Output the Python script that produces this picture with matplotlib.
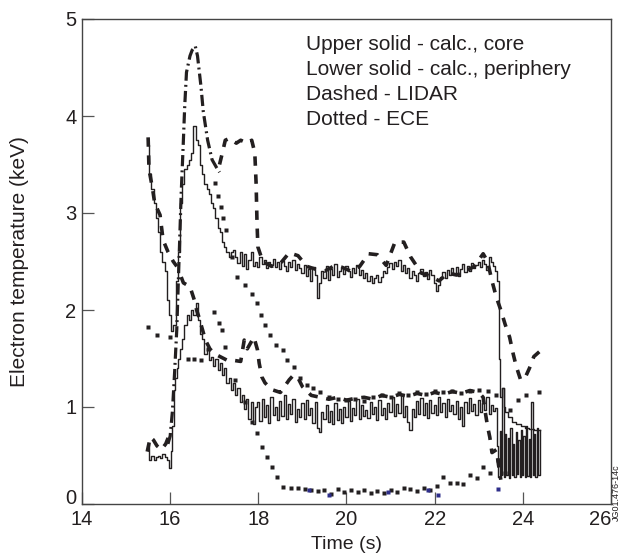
import numpy as np
import matplotlib
matplotlib.use("Agg")
import matplotlib.pyplot as plt

plt.rcParams['font.family'] = ['Liberation Sans', 'DejaVu Sans']
INK = '#231f20'
GAP = float('nan')

# ---------------- data ----------------
# Upper solid: calculated Te, core
core_t_start = [15.50, 15.55, 15.60, 15.65, 15.70, 15.75, 15.80, 15.85, 15.90, 15.95,
                16.00, 16.05, 16.10, 16.15, 16.20, 16.25, 16.30, 16.35, 16.40, 16.45,
                16.50, 16.55, 16.60, 16.65, 16.70, 16.75, 16.80, 16.85, 16.90, 16.95,
                17.00, 17.05, 17.10, 17.15, 17.20, 17.25, 17.30, 17.35, 17.40]
core_v_start = [3.70, 3.40, 3.25, 3.10, 2.95, 2.80, 2.60, 2.50, 2.40, 2.10,
                1.95, 1.78, 1.85, 2.30, 2.60, 3.10, 3.30, 3.45, 3.50, 3.55,
                3.62, 3.90, 3.75, 3.70, 3.50, 3.40, 3.30, 3.25, 3.20, 3.10,
                3.05, 2.95, 2.85, 2.80, 2.70, 2.65, 2.60, 2.55, 2.60]
core_v_flat = [2.62, 2.55, 2.48, 2.60, 2.45, 2.58, 2.42, 2.52, 2.60, 2.45,
               2.50, 2.44, 2.55, 2.47, 2.52, 2.43, 2.50, 2.46, 2.53, 2.44,
               2.49, 2.42, 2.51, 2.45, 2.40, 2.50, 2.44, 2.52, 2.41, 2.47,
               2.43, 2.38, 2.46, 2.35, 2.42, 2.30, 2.44, 2.36, 2.12, 2.28,
               2.40, 2.33, 2.45, 2.31, 2.42, 2.36, 2.47, 2.34, 2.40, 2.44,
               2.37, 2.45, 2.40, 2.34, 2.43, 2.38, 2.46, 2.36, 2.41, 2.33,
               2.38, 2.30, 2.35, 2.28, 2.33, 2.36, 2.29, 2.34, 2.40, 2.38,
               2.44, 2.48, 2.42, 2.50, 2.45, 2.52, 2.40, 2.46, 2.38, 2.43,
               2.33, 2.40, 2.36, 2.30, 2.38, 2.42, 2.35, 2.39, 2.32, 2.41,
               2.36, 2.28, 2.20, 2.26, 2.34, 2.39, 2.33, 2.41, 2.36, 2.43,
               2.38, 2.44, 2.35, 2.42, 2.47, 2.39, 2.45, 2.40, 2.48, 2.43,
               2.46, 2.50, 2.44, 2.52, 2.47, 2.41, 2.55, 2.49, 2.45, 2.40]
core_t_end = [23.45, 23.47, 23.50, 23.55, 23.58, 23.62, 23.70, 23.80, 23.90, 24.00,
              24.10, 24.20, 24.30, 24.40]
core_v_end = [2.30, 1.50, 1.10, 1.20, 1.00, 0.95, 0.90, 0.85, 0.82, 0.80,
              0.78, 0.77, 0.76, 0.76]

# Lower solid: calculated Te, periphery
peri_t_start = [15.50, 15.52, 15.60, 15.65, 15.70, 15.75, 15.80, 15.85, 15.90, 15.95,
                16.00, 16.03, 16.06, 16.10, 16.13, 16.17, 16.20, 16.25, 16.30, 16.35,
                16.40, 16.45, 16.50, 16.55, 16.60, 16.65, 16.70, 16.75, 16.80, 16.85,
                16.90, 16.95, 17.00, 17.05, 17.10, 17.15, 17.20, 17.25, 17.30, 17.35,
                17.40, 17.45, 17.50, 17.55, 17.60, 17.65, 17.70, 17.75, 17.80, 17.85,
                17.90, 17.95]
peri_v_start = [0.62, 0.45, 0.50, 0.45, 0.48, 0.50, 0.47, 0.52, 0.48, 0.45,
                0.37, 0.55, 0.80, 1.18, 1.30, 1.40, 1.50, 1.60, 1.70, 1.85,
                1.95, 1.90, 2.00, 1.95, 2.07, 1.90, 1.75, 1.70, 1.55, 1.60,
                1.48, 1.52, 1.42, 1.50, 1.38, 1.45, 1.33, 1.40, 1.25, 1.30,
                1.18, 1.25, 1.12, 1.20, 1.05, 1.12, 0.98, 1.08, 0.88, 1.05,
                0.82, 1.00]
peri_v_flat = [1.05, 0.86, 1.08, 0.90, 1.02, 0.84, 1.10, 0.92, 1.00, 0.87,
               1.06, 0.91, 1.12, 0.88, 1.03, 0.93, 1.08, 0.85, 0.98, 0.90,
               1.04, 0.88, 1.07, 0.92, 0.99, 0.83, 1.05, 0.78, 0.74, 0.95,
               0.88, 1.02, 0.85, 0.96, 0.82, 1.04, 0.87, 0.98, 0.84, 1.00,
               0.90, 1.06, 0.86, 0.99, 0.92, 1.08, 0.88, 1.02, 0.91, 0.97,
               0.89, 1.05, 0.93, 1.00, 0.87, 1.07, 0.92, 0.99, 0.88, 1.04,
               0.95, 1.10, 0.91, 1.03, 0.94, 1.12, 0.90, 1.01, 0.85, 0.76,
               0.98, 0.90, 1.06, 0.93, 1.09, 0.92, 1.04, 0.89, 1.07, 0.94,
               1.02, 0.92, 1.10, 0.95, 1.04, 0.90, 1.08, 0.96, 1.02, 0.93,
               1.06, 0.88, 1.00, 0.80, 1.05, 0.94, 1.09, 0.96, 1.03, 0.92,
               1.07, 0.95, 1.04, 0.97, 1.10, 0.93, 1.02, 0.96, 0.99]
peri_t_end = [23.43, 23.46, 23.49, 23.52, 23.55, 23.58, 23.61, 23.64, 23.67, 23.70,
              23.73, 23.76, 23.79, 23.82, 23.85, 23.88, 23.91, 23.94, 23.97, 24.00,
              24.03, 24.06, 24.09, 24.12, 24.15, 24.18, 24.21, 24.24, 24.27, 24.30,
              24.33, 24.36, 24.40]
peri_v_end = [0.60, 0.28, 0.75, 0.30, 1.20, 0.28, 0.72, 0.30, 0.68, 0.27,
              0.78, 0.30, 0.62, 0.28, 0.74, 0.31, 0.66, 0.28, 0.76, 0.30,
              0.70, 0.28, 0.80, 0.29, 0.67, 0.28, 1.05, 0.30, 0.72, 0.28,
              0.78, 0.30, 0.76]

# Dashed: LIDAR (GAP = no data)
lidar_core_t = [15.50, 15.52, 15.60, 15.65, 15.77, 15.84, 15.95, 16.07, 16.15, 16.20,
                17.12, 17.20, 17.25, 17.35, 17.50, 17.60, 17.75, 17.85, 17.92,
                17.95, 17.97, 17.99, 18.10, 18.30, 18.50, 18.70, 18.90, 19.10,
                19.30, 19.50, 19.70, 19.90, 20.10, 20.30, 20.50, 20.70, 20.90,
                21.10, 21.30, 21.45, 21.70, 21.90, 22.10, 22.30, 22.50, 22.70,
                22.90, 23.10, 23.20, 23.30, 23.40, 23.50, 23.60, 23.70, 23.78,
                23.85, 23.95, 24.05, 24.15, 24.25, 24.40]
lidar_core_v = [3.78, 3.45, 3.25, 3.10, 2.98, 2.72, 2.60, 2.50, 2.45, GAP,
                3.50, 3.65, 3.75, 3.77, 3.72, 3.75, 3.72, 3.75, 3.62,
                3.30, 2.90, 2.65, 2.50, 2.45, 2.48, 2.59, 2.56, 2.45,
                2.42, 2.40, 2.45, 2.44, 2.40, 2.45, 2.58, 2.57, 2.46,
                2.70, 2.70, 2.55, 2.38, 2.35, 2.30, 2.38, 2.36, 2.40,
                2.45, 2.58, 2.50, 2.30, 2.13, 2.00, 1.85, 1.72, 1.55,
                1.42, 1.28, 1.30, 1.40, 1.52, 1.58]
lidar_peri_t = [15.48, 15.55, 15.62, 15.70, 15.80, 15.90, 15.97, 16.05, 16.12,
                16.25, 16.30, 16.45, 16.55, 16.60, 16.65, 16.80, 16.90, 17.00,
                17.30, 17.45, 17.60, 17.68, 17.75, 17.90, 17.98, 18.02, 18.08,
                18.15, 18.30, 18.50, 18.70, 18.80, 18.90, 19.00, 19.20, 19.40,
                19.60, 19.80, 20.00, 20.20, 20.40, 20.60, 20.80, 21.00, 21.20,
                21.40, 21.60, 21.80, 22.00, 22.20, 22.40, 22.60, 22.80, 23.00,
                23.10, 23.15, 23.20, 23.25, 23.30, 23.40, 23.45, 23.50]
lidar_peri_v = [0.54, 0.69, 0.66, 0.60, 0.56, 0.62, 0.70, 0.76, GAP,
                2.34, 2.28, 2.24, 2.10, 2.00, 1.93, 1.69, 1.60, 1.55,
                1.48, 1.48, 1.47, 1.69, 1.60, 1.72, 1.59, 1.45, 1.31,
                1.25, 1.18, 1.15, 1.28, 1.33, 1.30, 1.21, 1.12, 1.10,
                1.08, 1.10, 1.07, 1.09, 1.10, 1.08, 1.12, 1.10, 1.13,
                1.11, 1.14, 1.12, 1.15, 1.13, 1.16, 1.14, 1.17, 1.15,
                1.10, 0.94, 0.80, 0.69, 0.53, 0.56, 0.40, 0.25]

# Dotted: ECE (core channel; dense near the peak, drawn dash-dot)
ece_core_peak_t = [15.95, 16.00, 16.05, 16.10, 16.15, 16.20, 16.25, 16.30, 16.33,
                   16.37, 16.45, 16.50, 16.57, 16.62, 16.65, 16.70, 16.75, 16.80,
                   16.85, 16.90, 16.95, 17.05, 17.12]
ece_core_peak_v = [0.62, 0.70, 0.95, 1.35, 1.80, 2.50, 3.20, 3.75, 4.10,
                   4.45, 4.62, 4.68, 4.72, 4.62, 4.50, 4.30, 4.05, 3.90,
                   3.75, 3.65, 3.55, 3.47, 3.42]
ece_core_t = [17.02, 17.08, 17.15, 17.20, 17.27, 17.40, 17.52, 17.70, 17.86, 17.97,
              18.05, 18.16, 18.27, 18.39, 18.55, 18.66, 18.80, 18.95, 19.10, 19.25,
              19.40, 19.60, 19.80, 20.00, 20.20, 20.40, 20.60, 20.80, 21.00, 21.20,
              21.40, 21.60, 21.80, 22.00, 22.20, 22.40, 22.60, 22.80, 23.00, 23.20,
              23.40, 23.70, 23.90, 24.07, 24.36]
ece_core_v = [3.31, 3.18, 3.06, 2.95, 2.82, 2.55, 2.34, 2.26, 2.17, 2.07,
              1.95, 1.85, 1.74, 1.64, 1.59, 1.48, 1.41, 1.30, 1.23, 1.20,
              1.15, 1.10, 1.08, 1.07, 1.08, 1.06, 1.10, 1.12, 1.10, 1.14,
              1.12, 1.15, 1.13, 1.16, 1.15, 1.17, 1.14, 1.16, 1.18, 1.17,
              1.12, 0.97, 1.07, 1.12, 1.15]
# Dotted: ECE periphery channel
ece_peri_t = [15.50, 15.70, 16.00, 16.40, 16.55, 16.70, 16.85, 17.00, 17.10, 17.18,
              17.25, 17.48, 17.70, 17.85, 17.97, 18.09, 18.20, 18.30, 18.43, 18.57,
              18.75, 18.89, 19.05, 19.20, 19.35, 19.50, 19.65, 19.80, 19.95, 20.10,
              20.25, 20.40, 20.55, 20.70, 20.85, 21.00, 21.15, 21.30, 21.45, 21.60,
              21.75, 21.90, 22.05, 22.20, 22.35, 22.50, 22.65, 22.80, 22.95, 23.10,
              23.25, 23.43, 23.60]
ece_peri_v = [1.82, 1.74, 1.72, 1.50, 1.50, 1.48, 1.60, 1.98, 1.87, 1.79,
              1.62, 1.28, 1.05, 0.85, 0.73, 0.59, 0.48, 0.38, 0.28, 0.18,
              0.17, 0.16, 0.15, 0.14, 0.13, 0.14, 0.10, 0.15, 0.12, 0.14,
              0.12, 0.14, 0.11, 0.13, 0.11, 0.14, 0.12, 0.16, 0.15, 0.13,
              0.17, 0.14, 0.19, 0.28, 0.22, 0.22, 0.21, 0.30, 0.27, 0.38,
              0.32, 0.45, 0.32]
blue_t = [19.14, 19.60, 20.95, 21.84, 22.07, 23.43]
blue_v = [0.14, 0.09, 0.12, 0.14, 0.09, 0.15]

xticks = [14, 16, 18, 20, 22, 24, 26]
yticks = [0, 1, 2, 3, 4, 5]
legend_lines = ["Upper solid - calc., core",
                "Lower solid - calc., periphery",
                "Dashed - LIDAR",
                "Dotted - ECE"]

# ---------------- figure ----------------
fig = plt.figure(figsize=(6.23, 5.57), dpi=100)
ax = fig.add_axes([82 / 623, 1 - 504 / 557, (611 - 82) / 623, (504 - 19) / 557])

flat_core_t = np.arange(len(core_v_flat)) * 0.05 + 17.45
flat_peri_t = np.arange(len(peri_v_flat)) * 0.05 + 18.00

core_t = list(core_t_start) + list(flat_core_t) + core_t_end
core_v = core_v_start + core_v_flat + core_v_end
peri_t = list(peri_t_start) + list(flat_peri_t) + peri_t_end
peri_v = peri_v_start + peri_v_flat + peri_v_end

ax.plot(core_t, core_v, color=INK, lw=1.0, drawstyle='steps-mid')
ax.plot(peri_t, peri_v, color=INK, lw=1.0, drawstyle='steps-mid')

ax.plot(lidar_core_t, lidar_core_v, color=INK, lw=2.6, linestyle=(0, (2.6, 2.4)),
        dash_capstyle='butt')
ax.plot(lidar_peri_t, lidar_peri_v, color=INK, lw=2.6, linestyle=(0, (2.6, 2.4)),
        dash_capstyle='butt')

ax.plot(ece_core_peak_t, ece_core_peak_v, color=INK, lw=2.3,
        linestyle=(0, (3.5, 1.3, 0.6, 1.3)), dash_capstyle='butt')
ax.plot(ece_core_t, ece_core_v, linestyle='none', marker='s', ms=2.6,
        color=INK, mec='none')
ax.plot(ece_peri_t, ece_peri_v, linestyle='none', marker='s', ms=2.4,
        color=INK, mec='none')
ax.plot(blue_t, blue_v, linestyle='none', marker='s', ms=2.6,
        color='#2e2e8a', mec='none')

ax.set_xlim(14, 26)
ax.set_ylim(0, 5)
ax.set_xticks(xticks)
ax.set_yticks(yticks)
ax.set_xticklabels([str(v) for v in xticks])
ax.set_yticklabels([str(v) for v in yticks])
ax.tick_params(direction='in', length=8.5, width=0.9, colors='#555555',
               labelcolor=INK, labelsize=14.5, pad=4)
for lab in ax.get_yticklabels():
    if lab.get_text() == '0':
        lab.set_va('baseline')
for lab in ax.get_xticklabels():
    if lab.get_text() == '26':
        lab.set_ha('right')
for sp in ax.spines.values():
    sp.set_color('#444444')
    sp.set_linewidth(1.0)

ax.set_xlabel('Time (s)', fontsize=14, color=INK, labelpad=5.5)
ax.set_ylabel('Electron temperature (keV)', fontsize=15, color=INK, labelpad=26)

for i, txt in enumerate(legend_lines):
    ax.text(19.07, 4.74 - i * 0.26, txt, fontsize=15, color=INK,
            ha='left', va='center')

fig.text(616 / 623, 1 - 493 / 557, 'JG01.476-14c', rotation=90, fontsize=6.5,
         color=INK, ha='center', va='center')

fig.savefig('out.png', dpi=100)
